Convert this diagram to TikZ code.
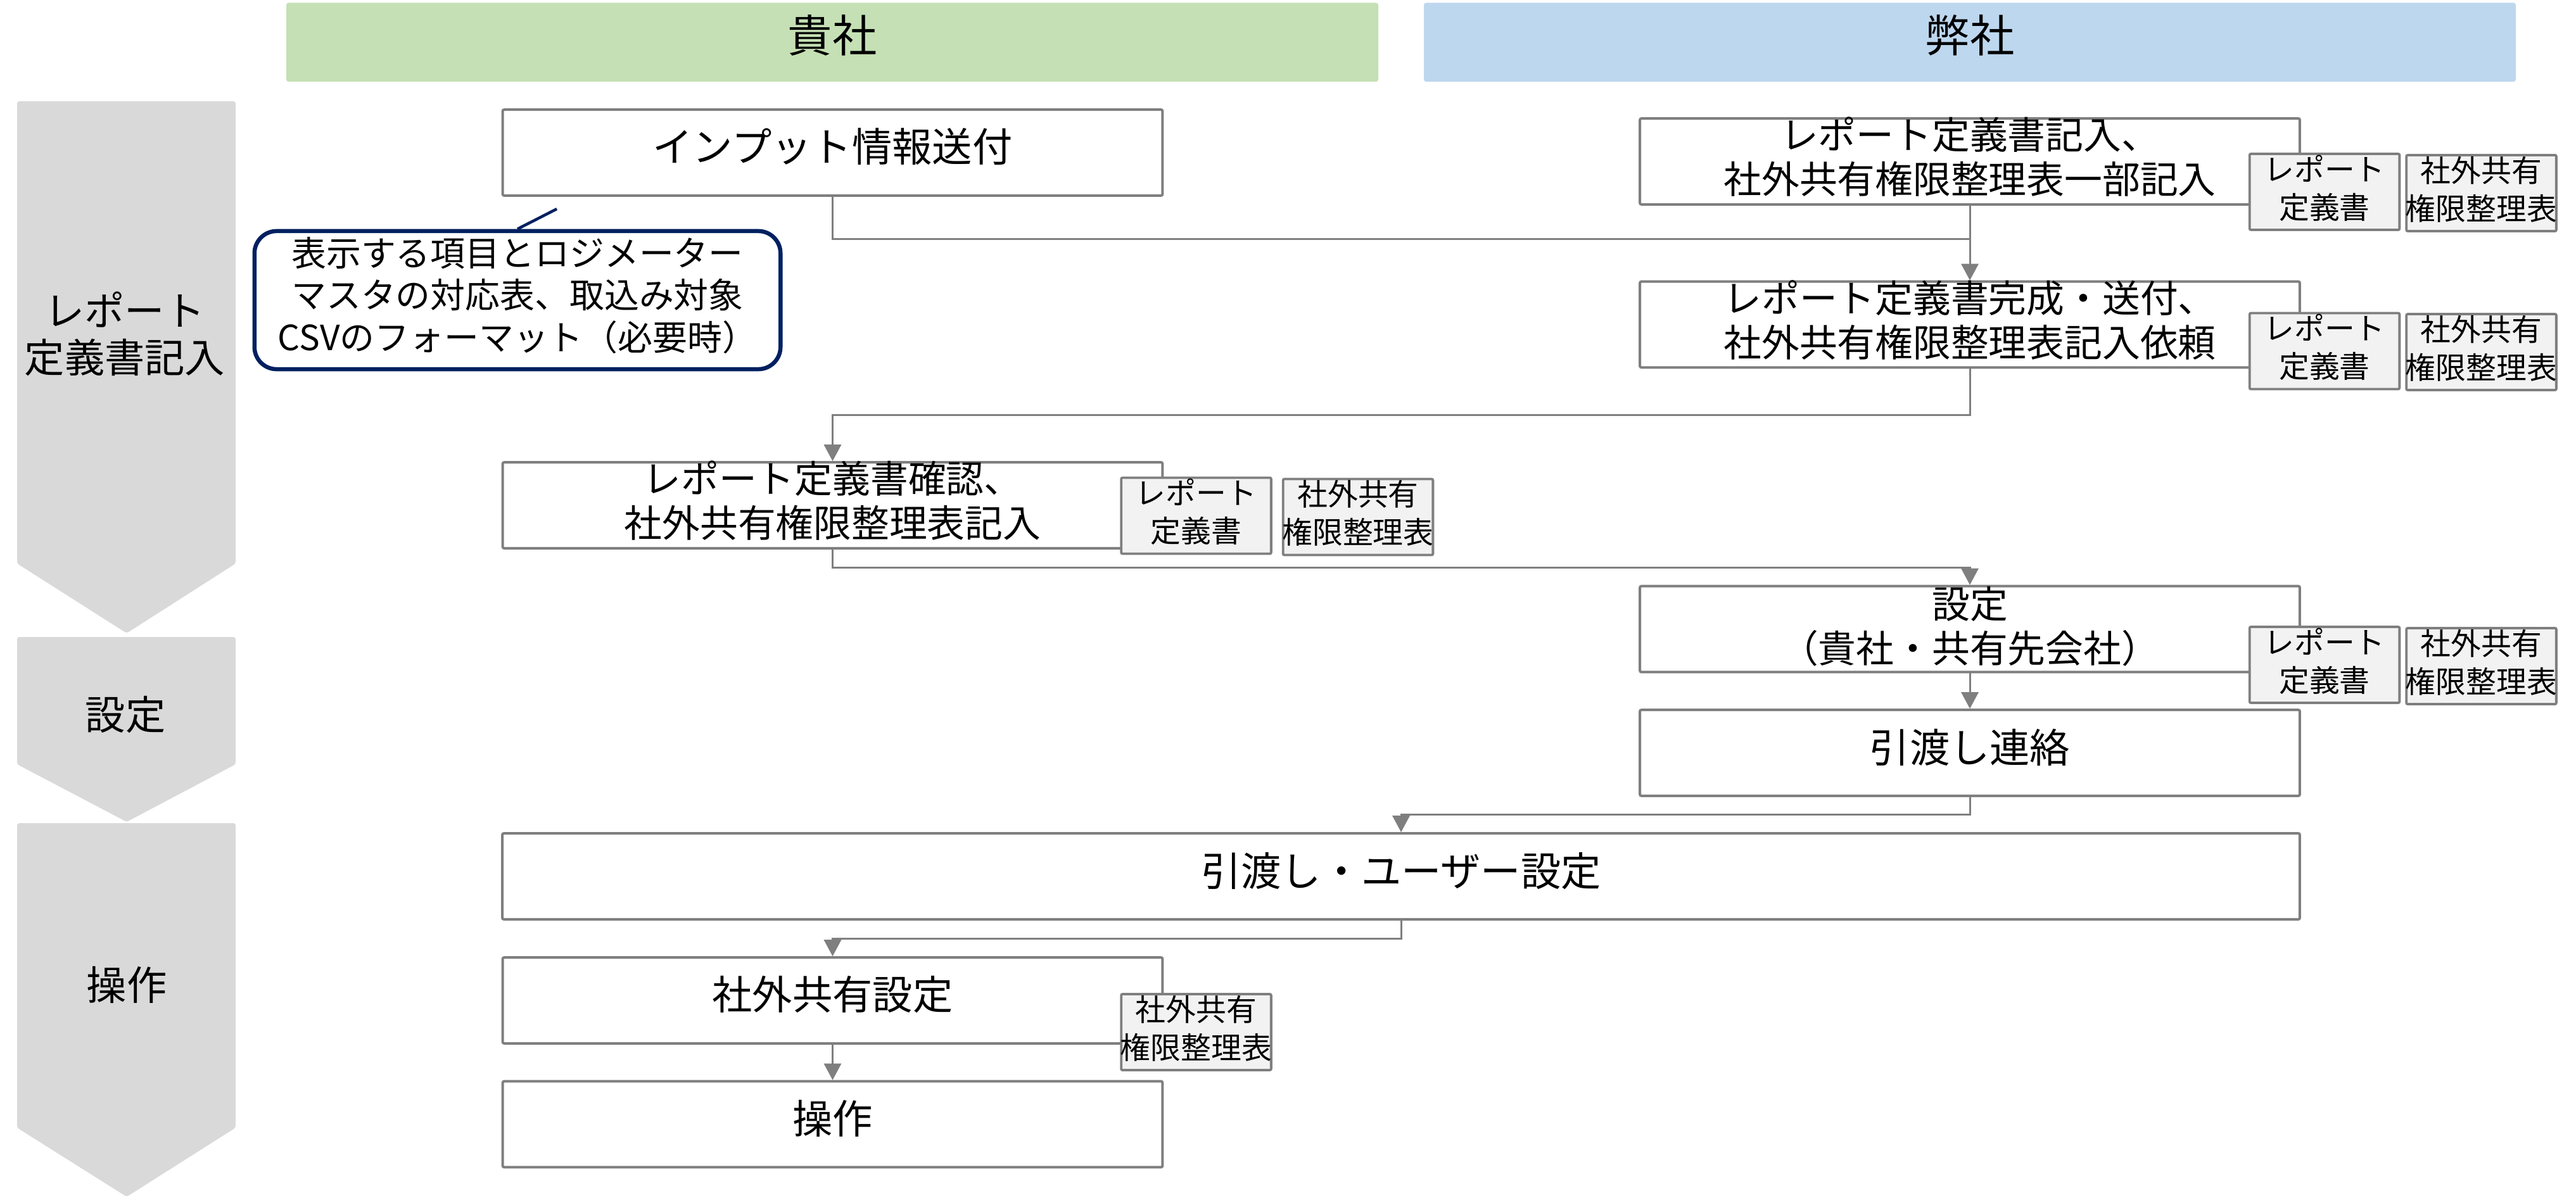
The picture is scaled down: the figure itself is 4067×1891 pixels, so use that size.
\documentclass[tikz,border=0pt]{standalone}
\usepackage{fontspec}
\setmainfont{Noto Sans CJK JP}
\usetikzlibrary{arrows.meta,calc}
\definecolor{boxgray}{HTML}{7F7F7F}
\definecolor{docfill}{HTML}{F2F2F2}
\definecolor{phasegray}{HTML}{D9D9D9}
\definecolor{headgreen}{HTML}{C5E0B4}
\definecolor{headblue}{HTML}{BDD7EE}
\definecolor{navy}{HTML}{002060}
\begin{document}
\begin{tikzpicture}[x=0.01cm,y=-0.01cm,
  procbox/.style={draw=boxgray, line width=0.04cm, fill=white, inner sep=0pt,
    minimum width=10.41cm, minimum height=1.355cm, rounded corners=0.6pt},
  widebox/.style={procbox, minimum width=28.36cm},
  docbox/.style={draw=boxgray, line width=0.038cm, fill=docfill, inner sep=0pt,
    minimum width=2.365cm, minimum height=1.2cm, rounded corners=0.6pt},
  boxtext/.style={inner sep=0pt, align=center, font=\fontsize{18pt}{21pt}\selectfont},
  twoline/.style={inner sep=0pt, align=center, font=\fontsize{17pt}{19.9pt}\selectfont},
  doctext/.style={inner sep=0pt, align=center, font=\fontsize{13.6pt}{17pt}\selectfont},
  notetext/.style={inner sep=0pt, align=center, font=\fontsize{15.6pt}{19pt}\selectfont},
  headtext/.style={inner sep=0pt, font=\fontsize{20pt}{24pt}\selectfont},
  phasetext/.style={inner sep=0pt, align=center, font=\fontsize{18pt}{21pt}\selectfont},
  notebox/.style={draw=navy, line width=0.065cm, fill=white, inner sep=0pt,
    minimum width=8.30cm, minimum height=2.18cm, rounded corners=0.35cm},
  conn/.style={draw=boxgray, line width=0.03cm},
  arr/.style={-{Triangle[length=0.26cm,width=0.27cm]}, boxgray}
]
\useasboundingbox (0,0) rectangle (4067,1891);
\fill[white] (0,0) rectangle (4067,1891);

% headers
\fill[headgreen, rounded corners=1pt] (452,4.5) rectangle (2176,129);
\fill[headblue, rounded corners=1pt] (2248,4.5) rectangle (3972,129);
\node[headtext] (hkisha) at (1314,56) {貴社};
\node[headtext] (hheisha) at (3110,56) {弊社};

% phase arrows
\fill[phasegray, rounded corners=1pt] (27,160) -- (372,160) -- (372,890) -- (200,1000) -- (27,890) -- cycle;
\fill[phasegray, rounded corners=1pt] (27,1006) -- (372,1006) -- (372,1207) -- (200,1298) -- (27,1207) -- cycle;
\fill[phasegray, rounded corners=1pt] (27,1300) -- (372,1300) -- (372,1781) -- (200,1890) -- (27,1781) -- cycle;
\node[phasetext] (p1) at (197,527) {レポート\\定義書記入};
\node[phasetext] (p2) at (198,1129) {設定};
\node[phasetext] (p3) at (200,1555) {操作};

% process boxes
\node[procbox] (A) at (1314.5,241) {};
\node[procbox] (B) at (3110,255) {};
\node[procbox] (C) at (3110,512.5) {};
\node[procbox] (D) at (1314.5,798) {};
\node[procbox] (E) at (3110,993.5) {};
\node[procbox] (F) at (3110,1189) {};
\node[widebox] (G) at (2212,1384) {};
\node[procbox] (H) at (1314.5,1580) {};
\node[procbox] (I) at (1314.5,1775.5) {};

\node[boxtext] (At) at (1314.5,232) {インプット情報送付};
\node[twoline] (Bt) at (3110,247.5) {レポート定義書記入、\\社外共有権限整理表一部記入};
\node[twoline] (Ct) at (3110,505.5) {レポート定義書完成・送付、\\社外共有権限整理表記入依頼};
\node[twoline] (Dt) at (1314.5,790.5) {レポート定義書確認、\\社外共有権限整理表記入};
\node[twoline] (Et) at (3110,989) {設定\\（貴社・共有先会社）};
\node[boxtext] (Ft) at (3110,1180) {引渡し連絡};
\node[boxtext] (Gt) at (2212,1376) {引渡し・ユーザー設定};
\node[boxtext] (Ht) at (1314.5,1571) {社外共有設定};
\node[boxtext] (It) at (1314.5,1766) {操作};

% document boxes
\node[docbox] (dB1) at (3670,303) {};
\node[docbox] (dB2) at (3917.5,305) {};
\node[docbox] (dC1) at (3670,554.5) {};
\node[docbox] (dC2) at (3917.5,556) {};
\node[docbox] (dD1) at (1888.5,814.5) {};
\node[docbox] (dD2) at (2144,816.5) {};
\node[docbox] (dE1) at (3670,1050) {};
\node[docbox] (dE2) at (3917.5,1052) {};
\node[docbox] (dH2) at (1888.5,1630) {};
\node[doctext] (dB1t) at (3670,297) {レポート\\定義書};
\node[doctext] (dB2t) at (3917.5,299) {社外共有\\権限整理表};
\node[doctext] (dC1t) at (3670,548.5) {レポート\\定義書};
\node[doctext] (dC2t) at (3917.5,550) {社外共有\\権限整理表};
\node[doctext] (dD1t) at (1888.5,808.5) {レポート\\定義書};
\node[doctext] (dD2t) at (2144,810.5) {社外共有\\権限整理表};
\node[doctext] (dE1t) at (3670,1044) {レポート\\定義書};
\node[doctext] (dE2t) at (3917.5,1046) {社外共有\\権限整理表};
\node[doctext] (dH2t) at (1888.5,1624) {社外共有\\権限整理表};

% callout
\node[notebox] (note) at (817,474) {};
\node[notetext] (notet) at (817,466.5) {表示する項目とロジメーター\\マスタの対応表、取込み対象\\CSVのフォーマット（必要時）};
\coordinate (ptr) at (879,330);
\draw[navy, line width=0.045cm] (note.north) -- (ptr);

% connectors
\coordinate (j1) at (3110,377);
\coordinate (j2) at (1314.5,655);
\coordinate (j3) at (3110,896);
\coordinate (j4) at (2212,1286);
\coordinate (j5) at (1314.5,1482);
\draw[conn] (A.south) |- (j1);
\draw[conn,arr] (B.south) -- (C.north);
\draw[conn,arr] (C.south) |- (j2) -- (D.north);
\draw[conn,arr] (D.south) |- (j3) -- (E.north);
\draw[conn,arr] (E.south) -- (F.north);
\draw[conn,arr] (F.south) |- (j4) -- (G.north);
\draw[conn,arr] (G.south) |- (j5) -- (H.north);
\draw[conn,arr] (H.south) -- (I.north);
\end{tikzpicture}
\end{document}
